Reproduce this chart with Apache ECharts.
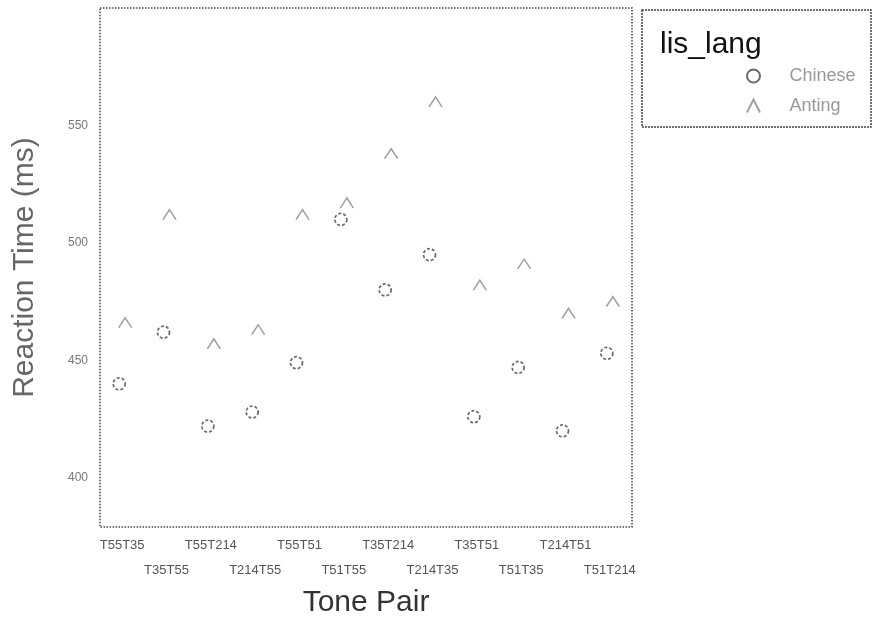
<!DOCTYPE html>
<html>
<head>
<meta charset="utf-8">
<script src="https://cdn.jsdelivr.net/npm/echarts@6/dist/echarts.min.js"></script>
<style>html,body{margin:0;padding:0;background:#fff}#c{width:873px;height:623px}</style>
</head>
<body>
<div id="c"></div>
<script>
var categories = ['T55T35','T35T55','T55T214','T214T55','T55T51','T51T55','T35T214','T214T35','T35T51','T51T35','T214T51','T51T214'];
var chinese = [440, 462, 422, 428, 449, 510, 480, 495, 426, 447, 420, 453];
var anting = [466, 512, 457, 463, 512, 517, 538, 560, 482, 491, 470, 475];
var yTicks = [400, 450, 500, 550];
var seriesNames = ['Chinese', 'Anting'];

var chart = echarts.init(document.getElementById('c'));
var FONT = 'Liberation Sans';
chart.setOption({
  animation: false,
  backgroundColor: '#fff',
  textStyle: { fontFamily: FONT },
  title: {
    text: 'lis_lang', left: 655, top: 25,
    textStyle: { fontFamily: FONT, fontSize: 30, fontWeight: 'normal', color: '#111' }
  },
  graphic: [{
    type: 'rect', shape: { x: 642, y: 10, width: 229, height: 117 },
    style: { fill: 'none', stroke: '#444', lineWidth: 1.5, lineDash: [2, 1] }
  }],
  legend: {
    data: seriesNames, orient: 'vertical', left: 741, top: 62,
    itemWidth: 14, itemHeight: 13, itemGap: 12,
    textStyle: { fontFamily: FONT, fontSize: 18, color: '#999', padding: [0, 0, 0, 24] }
  },
  grid: {
    left: 100, top: 8, width: 532, height: 525, show: true,
    borderColor: '#444', borderWidth: 1.5, borderType: 'dotted', backgroundColor: 'transparent'
  },
  xAxis: {
    type: 'category', data: categories, boundaryGap: true,
    axisLine: { show: false }, axisTick: { show: false }, splitLine: { show: false },
    axisLabel: {
      interval: 0, margin: 6, fontSize: 13, color: '#555', lineHeight: 25, fontFamily: FONT,
      formatter: function (v, i) { return i % 2 ? '\n' + v : v; }
    },
    name: 'Tone Pair', nameLocation: 'middle', nameGap: 58,
    nameTextStyle: { fontSize: 30, color: '#333', fontFamily: FONT }
  },
  yAxis: {
    type: 'value', min: 379, max: 600,
    axisLine: { show: false }, axisTick: { show: false }, splitLine: { show: false },
    axisLabel: { customValues: yTicks, fontSize: 12, color: '#777', margin: 12, fontFamily: FONT },
    name: 'Reaction Time (ms)', nameLocation: 'middle', nameGap: 60,
    nameTextStyle: { fontSize: 30, color: '#666', fontFamily: FONT }
  },
  series: [{
    name: seriesNames[0], type: 'scatter', data: chinese,
    symbol: 'circle', symbolSize: 12, symbolOffset: [-3, 0],
    itemStyle: { color: 'transparent', borderColor: '#444', borderWidth: 1.7, borderType: [3, 2] }
  }, {
    name: seriesNames[1], type: 'scatter', data: anting,
    symbol: 'path://M0,10L5,0L10,10', symbolSize: [13, 10], symbolOffset: [3, 0],
    itemStyle: { color: 'transparent', borderColor: '#888', borderWidth: 1.4 }
  }]
});
</script>
</body>
</html>
